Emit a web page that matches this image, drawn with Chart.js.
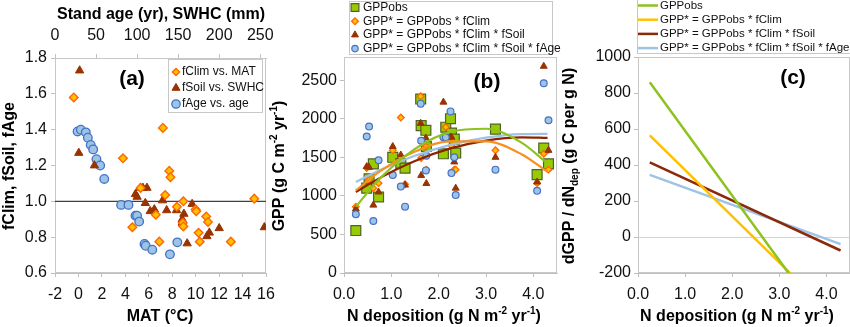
<!DOCTYPE html>
<html>
<head>
<meta charset="utf-8">
<script src="https://cdn.jsdelivr.net/npm/chart.js@4.4.1/dist/chart.umd.min.js"></script>
<style>
  body { margin: 0; background: #fff; }
  #wrap { position: relative; width: 850px; height: 327px; overflow: hidden; }
  canvas { position: absolute; top: 0; }
</style>
</head>
<body>
<div id="wrap">
  <canvas id="panelA" width="290" height="327" style="left:0"></canvas>
  <canvas id="panelB" width="300" height="327" style="left:268px"></canvas>
  <canvas id="panelC" width="290" height="327" style="left:560px"></canvas>
</div>
<script>
// (a) correction factors
const matClim = [-0.4, 3.8, 4.6, 5.3, 6.6, 6.9, 7.2, 7.4, 7.75, 7.85, 8.4, 8.95, 8.9, 8.95, 10.0, 10.05, 10.25, 10.35, 10.9, 11.05, 13.0, 15.0];
const fClim = [1.58, 1.24, 0.855, 1.075, 0.925, 0.775, 1.41, 1.035, 1.17, 1.135, 0.97, 1.0, 0.88, 0.86, 0.955, 0.945, 0.825, 0.775, 0.915, 0.885, 0.775, 1.015];
const swhcSoil = [30, 29, 48, 98, 100, 104, 107, 112, 110, 116, 121, 131, 136, 148, 157, 155, 155, 167, 161, 185, 188, 200, 255];
const fSoil = [1.73, 1.27, 1.20, 1.04, 1.025, 1.075, 1.075, 1.075, 0.99, 0.945, 0.955, 1.005, 0.95, 0.95, 0.93, 0.90, 0.88, 0.985, 0.765, 0.805, 0.825, 0.85, 0.855];
const ageStand = [27.5, 31.5, 37.5, 40, 43.5, 46.5, 50.5, 55, 60, 80.5, 89.5, 98, 100, 102.5, 109, 110.5, 118.5, 140, 149];
const fAge = [1.39, 1.40, 1.385, 1.355, 1.315, 1.29, 1.235, 1.20, 1.125, 0.98, 0.98, 0.92, 0.92, 0.887, 0.762, 0.752, 0.73, 0.704, 0.771];

// (b) GPP per site against N deposition
const ndepSites = [0.25, 0.48, 0.53, 0.62, 0.73, 1.03, 1.20, 1.29, 1.62, 1.63, 1.73, 1.74, 2.10, 2.15, 2.25, 2.27, 2.33, 2.36, 3.20, 4.08, 4.22, 4.32];
const gppObs = [550, 1100, 1220, 1415, 985, 1500, 1420, 1360, 2255, 1910, 1850, 1640, 1545, 1890, 2000, 1815, 1735, 1555, 1865, 1275, 1620, 1415];
const gppClim = [860, 1360, 1210, 1100, 1165, 1590, 2015, 1150, 2290, 1490, 1640, 1340, 1760, 1890, 1760, 1650, 1340, 1340, 1590, 1165, 1545, 1340];
const gppClimSoil = [830, 1380, 1370, 880, 1050, 1640, 1530, 1140, 1940, 1265, 1750, 1160, 2215, 1770, 1770, 1760, 1440, 1100, 1500, 1180, 2680, 1590];
const gppClimSoilAge = [760, 1770, 1900, 675, 1460, 1270, 1120, 860, 2195, 1715, 1330, 1520, 1760, 1760, 2095, 1295, 1500, 1010, 1340, 1065, 2460, 1980];

// (b) quadratic trend curves
const fitN = [0.25, 0.75, 1.5, 2.25, 3.0, 3.75, 4.3];
const fitObs = [860, 1220, 1610, 1830, 1870, 1690, 1420];
const fitClim = [1070, 1313, 1574, 1707, 1706, 1540, 1310];
const fitClimSoil = [1050, 1230, 1452, 1615, 1717, 1759, 1751];
const fitClimSoilAge = [1180, 1332, 1520, 1661, 1754, 1800, 1803];

// (c) dGPP/dNdep lines
const slopeN = [0.25, 4.3];
const dObs = [860, -598];
const dClim = [565, -476];
const dClimSoil = [415, -75];
const dClimSoilAge = [345, -40];

// tick values
const matTicks = [-2, 0, 2, 4, 6, 8, 10, 12, 14, 16];
const ageTicks = [0, 50, 100, 150, 200, 250];
const fTicks = [0.6, 0.8, 1.0, 1.2, 1.4, 1.6, 1.8];
const ndepTicks = [0, 1, 2, 3, 4];
const gppTicks = [0, 500, 1000, 1500, 2000, 2500];
const slopeTicks = [-200, 0, 200, 400, 600, 800, 1000];

const FONT = "'Liberation Sans', Arial, sans-serif";
Chart.defaults.font.family = FONT;
Chart.defaults.font.size = 16;
Chart.defaults.color = '#111';

const pts = (xs, ys) => xs.map((x, i) => ({ x: x, y: ys[i] }));
const BORDER = { color: '#bfbfbf' };
const GRID = { drawOnChartArea: false, tickLength: 4, color: '#bfbfbf' };

const fixedTicks = values => scale => { scale.ticks = values.map(v => ({ value: v })); };
function ticks(pad, digits) {
  return { padding: pad, autoSkip: false, maxRotation: 0, minRotation: 0, callback: v => v.toFixed(digits) };
}

// bold text with super/subscript pieces
function drawRich(ctx, parts, cx, cy, size, angle) {
  const big = 'bold ' + size + 'px ' + FONT;
  const small = 'bold ' + Math.round(size * 0.65) + 'px ' + FONT;
  let total = 0;
  parts.forEach(p => { ctx.font = p[1] ? small : big; total += ctx.measureText(p[0]).width; });
  ctx.save();
  ctx.translate(cx, cy);
  ctx.rotate(angle || 0);
  ctx.fillStyle = '#000';
  ctx.textBaseline = 'middle';
  ctx.textAlign = 'left';
  let x = -total / 2;
  parts.forEach(p => {
    ctx.font = p[1] ? small : big;
    const dy = p[1] === 'sup' ? -size * 0.33 : p[1] === 'sub' ? size * 0.3 : 0;
    ctx.fillText(p[0], x, dy);
    x += ctx.measureText(p[0]).width;
  });
  ctx.restore();
}

function drawLegend(chart, lg) {
  const ctx = chart.ctx;
  ctx.save();
  ctx.fillStyle = '#fff';
  ctx.fillRect(lg.x, lg.y, lg.w, lg.h);
  ctx.strokeStyle = '#c8c8c8';
  ctx.lineWidth = 1;
  ctx.strokeRect(lg.x + 0.5, lg.y + 0.5, lg.w, lg.h);
  ctx.textBaseline = 'middle';
  ctx.textAlign = 'left';
  lg.items.forEach((idx, i) => {
    const ds = chart.data.datasets[idx];
    const y = lg.y0 + i * lg.rowH;
    if (ds.pointRadius === 0) {
      ctx.strokeStyle = ds.borderColor;
      ctx.lineWidth = ds.borderWidth;
      ctx.beginPath();
      ctx.moveTo(lg.mx - 10, y);
      ctx.lineTo(lg.mx + 10, y);
      ctx.stroke();
    } else {
      ctx.fillStyle = ds.backgroundColor;
      ctx.strokeStyle = ds.borderColor;
      ctx.lineWidth = ds.borderWidth;
      Chart.helpers.drawPoint(ctx, { pointStyle: ds.pointStyle, radius: lg.r[i], rotation: 0, borderWidth: ds.borderWidth }, lg.mx, y);
    }
    ctx.fillStyle = '#111';
    ctx.font = lg.font + 'px ' + FONT;
    ctx.fillText(ds.label, lg.tx, y);
  });
  ctx.restore();
}

const decor = {
  id: 'decor',
  beforeDatasetsDraw(chart) {
    const a = chart.chartArea, ctx = chart.ctx;
    ctx.save();
    ctx.strokeStyle = '#c8c8c8';
    ctx.lineWidth = 1;
    ctx.strokeRect(Math.round(a.left) + 0.5, Math.round(a.top) + 0.5, Math.round(a.right - a.left) - 1, Math.round(a.bottom - a.top) - 1);
    ctx.restore();
  },
  afterDraw(chart, args, opts) {
    const ctx = chart.ctx;
    (opts.titles || []).forEach(t => drawRich(ctx, t.parts, t.x, t.y, 16, t.rot ? -Math.PI / 2 : 0));
    if (opts.letter) drawRich(ctx, [[opts.letter.text]], opts.letter.x, opts.letter.y, 21, 0);
    if (opts.legend) drawLegend(chart, opts.legend);
  }
};
Chart.register(decor);

const base = {
  responsive: false,
  animation: false,
  events: [],
};

// (a)
new Chart(document.getElementById('panelA'), {
  type: 'scatter',
  data: {
    datasets: [
      { label: 'fClim vs. MAT', data: pts(matClim, fClim), xAxisID: 'x', pointStyle: 'rectRot', pointRadius: 4.3, backgroundColor: '#FFC000', borderColor: '#FF6600', borderWidth: 1.4, order: 1 },
      { label: 'fSoil vs. SWHC', data: pts(swhcSoil, fSoil), xAxisID: 'x2', pointStyle: 'triangle', pointRadius: 4.8, backgroundColor: '#993300', borderColor: '#993300', borderWidth: 1, order: 2 },
      { label: 'fAge vs. age', data: pts(ageStand, fAge), xAxisID: 'x2', pointStyle: 'circle', pointRadius: 4.3, backgroundColor: '#9DC3E6', borderColor: '#4472C4', borderWidth: 1.3, order: 3 },
      { label: 'f = 1', data: pts([-2, 16], [1, 1]), xAxisID: 'x', showLine: true, pointRadius: 0, borderColor: '#404040', borderWidth: 1.3, order: 4 }
    ]
  },
  options: Object.assign({}, base, {
    layout: { padding: { left: 0, right: 24, top: 0, bottom: 0 } },
    plugins: {
      legend: { display: false }, tooltip: { enabled: false },
      decor: {
        titles: [
          { parts: [['fClim, fSoil, fAge']], x: 10, y: 166, rot: true },
          { parts: [['Stand age (yr), SWHC (mm)']], x: 161, y: 15 },
          { parts: [['MAT (°C)']], x: 160, y: 317 }
        ],
        letter: { text: '(a)', x: 132, y: 79 },
        legend: { x: 168, y: 59, w: 94, h: 53, y0: 72, rowH: 16, mx: 176, tx: 182, font: 12, items: [0, 1, 2], r: [3.6, 4.6, 4.2] }
      }
    },
    scales: {
      x: { type: 'linear', position: 'bottom', min: -2, max: 16, ticks: ticks(8, 0), afterBuildTicks: fixedTicks(matTicks), grid: GRID, border: BORDER, afterFit: s => { s.height = 54; } },
      x2: { type: 'linear', position: 'top', min: 0, max: 257, ticks: ticks(9, 0), afterBuildTicks: fixedTicks(ageTicks), grid: GRID, border: BORDER, afterFit: s => { s.height = 58; } },
      y: { min: 0.6, max: 1.8, ticks: ticks(4, 1), afterBuildTicks: fixedTicks(fTicks), grid: GRID, border: BORDER, afterFit: s => { s.width = 55; } }
    }
  })
});

// (b)
new Chart(document.getElementById('panelB'), {
  type: 'scatter',
  data: {
    datasets: [
      { label: 'GPPobs fit', data: pts(fitN, fitObs), showLine: true, cubicInterpolationMode: 'monotone', pointRadius: 0, borderColor: '#8DC21F', borderWidth: 2.2, order: 0 },
      { label: 'fClim fit', data: pts(fitN, fitClim), showLine: true, cubicInterpolationMode: 'monotone', pointRadius: 0, borderColor: '#F7901E', borderWidth: 2.2, order: 0 },
      { label: 'fClim fSoil fit', data: pts(fitN, fitClimSoil), showLine: true, cubicInterpolationMode: 'monotone', pointRadius: 0, borderColor: '#8B2500', borderWidth: 2.2, order: 0 },
      { label: 'fClim fSoil fAge fit', data: pts(fitN, fitClimSoilAge), showLine: true, cubicInterpolationMode: 'monotone', pointRadius: 0, borderColor: '#9DC3E6', borderWidth: 2.2, order: 0 },
      { label: 'GPP* = GPPobs * fClim * fSoil * fAge', data: pts(ndepSites, gppClimSoilAge), pointStyle: 'circle', pointRadius: 3.4, backgroundColor: '#9DC3E6', borderColor: '#4472C4', borderWidth: 1.2, order: 1 },
      { label: 'GPP* = GPPobs * fClim * fSoil', data: pts(ndepSites, gppClimSoil), pointStyle: 'triangle', pointRadius: 4, backgroundColor: '#993300', borderColor: '#993300', borderWidth: 1, order: 2 },
      { label: 'GPP* = GPPobs * fClim', data: pts(ndepSites, gppClim), pointStyle: 'rectRot', pointRadius: 3.3, backgroundColor: '#FFC000', borderColor: '#FF6600', borderWidth: 1.3, order: 3 },
      { label: 'GPPobs', data: pts(ndepSites, gppObs), pointStyle: 'rect', pointRadius: 7, backgroundColor: '#99CC00', borderColor: '#4F6228', borderWidth: 1.2, order: 4 }
    ]
  },
  options: Object.assign({}, base, {
    layout: { padding: { left: 0, right: 11, top: 57, bottom: 0 } },
    plugins: {
      legend: { display: false }, tooltip: { enabled: false },
      decor: {
        titles: [
          { parts: [['GPP (g C m'], ['-2', 'sup'], [' yr'], ['-1', 'sup'], [')']], x: 12, y: 166, rot: true },
          { parts: [['N deposition (g N m'], ['-2', 'sup'], [' yr'], ['-1', 'sup'], [')']], x: 176, y: 317 }
        ],
        letter: { text: '(b)', x: 219, y: 82 },
        legend: { x: 81, y: 1, w: 203, h: 53, y0: 7.5, rowH: 13.7, mx: 87, tx: 95, font: 12, items: [7, 6, 5, 4], r: [5.5, 3.4, 4, 3.2] }
      }
    },
    scales: {
      x: { type: 'linear', min: 0, max: 4.5, ticks: ticks(8, 1), afterBuildTicks: fixedTicks(ndepTicks), grid: GRID, border: BORDER, afterFit: s => { s.height = 54; } },
      y: { min: 0, max: 2800, ticks: ticks(3, 0), afterBuildTicks: fixedTicks(gppTicks), grid: GRID, border: BORDER, afterFit: s => { s.width = 76; } }
    }
  })
});

// (c)
new Chart(document.getElementById('panelC'), {
  type: 'scatter',
  data: {
    datasets: [
      { label: 'GPPobs', data: pts(slopeN, dObs), showLine: true, pointRadius: 0, borderColor: '#8DC21F', borderWidth: 2.5 },
      { label: 'GPP* = GPPobs * fClim', data: pts(slopeN, dClim), showLine: true, pointRadius: 0, borderColor: '#FFC000', borderWidth: 2.5 },
      { label: 'GPP* = GPPobs * fClim * fSoil', data: pts(slopeN, dClimSoil), showLine: true, pointRadius: 0, borderColor: '#8B2A0B', borderWidth: 2.5 },
      { label: 'GPP* = GPPobs * fClim * fSoil * fAge', data: pts(slopeN, dClimSoilAge), showLine: true, pointRadius: 0, borderColor: '#9DC3E6', borderWidth: 2.5 }
    ]
  },
  options: Object.assign({}, base, {
    layout: { padding: { left: 0, right: 0, top: 57, bottom: 0 } },
    plugins: {
      legend: { display: false }, tooltip: { enabled: false },
      decor: {
        titles: [
          { parts: [['dGPP / dN'], ['dep', 'sub'], [' (g C per g N)']], x: 10, y: 166, rot: true },
          { parts: [['N deposition (g N m'], ['-2', 'sup'], [' yr'], ['-1', 'sup'], [')']], x: 177, y: 317 }
        ],
        letter: { text: '(c)', x: 233, y: 78 },
        legend: { x: 77, y: -1, w: 220, h: 54, y0: 5.5, rowH: 14.2, mx: 88, tx: 100, font: 11.5, items: [0, 1, 2, 3] }
      }
    },
    scales: {
      x: { type: 'linear', min: 0, max: 4.5, ticks: ticks(8, 1), afterBuildTicks: fixedTicks(ndepTicks), grid: GRID, border: BORDER, afterFit: s => { s.height = 54; } },
      y: { min: -200, max: 1000, ticks: ticks(3, 0), afterBuildTicks: fixedTicks(slopeTicks),
           grid: { drawOnChartArea: true, tickLength: 4, tickColor: '#bfbfbf', color: c => (c.tick && c.tick.value === 0) ? '#d4d4d4' : 'rgba(0,0,0,0)' },
           border: BORDER, afterFit: s => { s.width = 78; } }
    }
  })
});
</script>
</body>
</html>
